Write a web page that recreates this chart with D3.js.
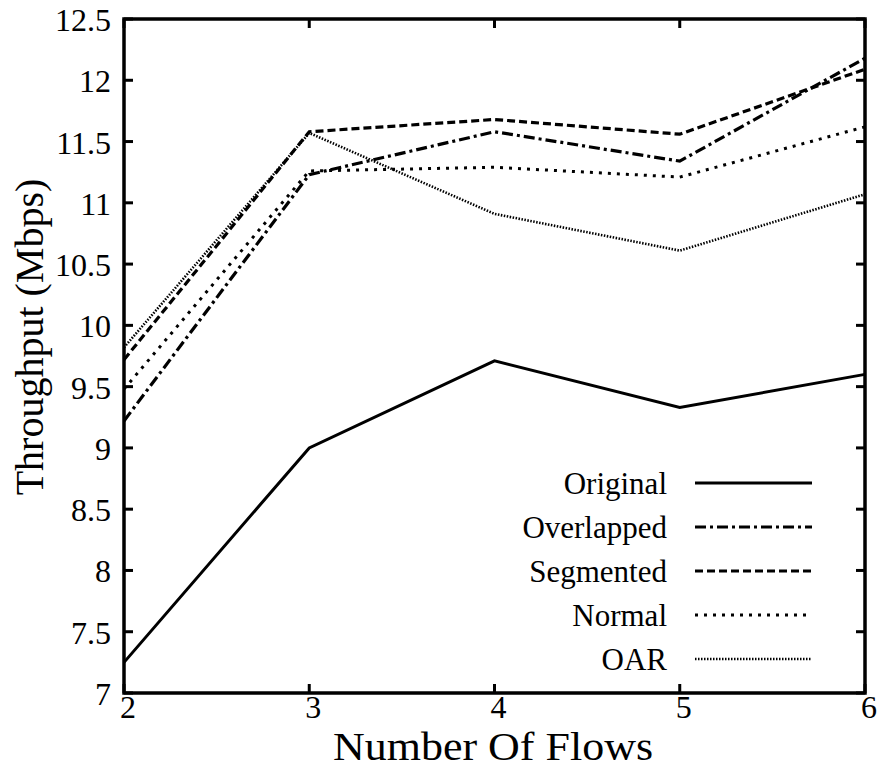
<!DOCTYPE html>
<html>
<head>
<meta charset="utf-8">
<script src="https://cdn.jsdelivr.net/npm/d3@7"></script>
<style>
html,body{margin:0;padding:0;background:#fff;}
svg{display:block;}
</style>
</head>
<body>
<svg id="chart" width="881" height="770"></svg>
<script>
const flows = [2, 3, 4, 5, 6];
const original   = [7.25, 9.00, 9.71, 9.33, 9.60];
const overlapped = [9.22, 11.23, 11.58, 11.34, 12.18];
const segmented  = [9.72, 11.58, 11.68, 11.56, 12.09];
const normal     = [9.48, 11.26, 11.29, 11.21, 11.62];
const oar        = [9.82, 11.57, 10.91, 10.61, 11.07];
const seriesNames = ["Original", "Overlapped", "Segmented", "Normal", "OAR"];
const yTicks = [7, 7.5, 8, 8.5, 9, 9.5, 10, 10.5, 11, 11.5, 12, 12.5];
const xTicks = [2, 3, 4, 5, 6];

const seriesValues = [original, overlapped, segmented, normal, oar];
const styles = [
  {dash: null, width: 3},
  {dash: "11,4,3,4", width: 3.2},
  {dash: "8,4", width: 3.2},
  {dash: "3,6", width: 3},
  {dash: "1.5,1.5", width: 2.6}
];
const FONT = "'Liberation Serif', Tinos, 'Times New Roman', Times, 'DejaVu Serif', serif";

const svg = d3.select("#chart");
const L = 124, R = 865, T = 19, B = 693;
const x = d3.scaleLinear().domain([2, 6]).range([L, R]);
const y = d3.scaleLinear().domain([7, 12.5]).range([B, T]);

const tickLen = 9;
const g = svg.append("g");
yTicks.forEach(v => {
  g.append("line").attr("x1", L).attr("x2", L + tickLen).attr("y1", y(v)).attr("y2", y(v))
    .attr("stroke", "#000").attr("stroke-width", 3);
  g.append("line").attr("x1", R).attr("x2", R - tickLen).attr("y1", y(v)).attr("y2", y(v))
    .attr("stroke", "#000").attr("stroke-width", 3);
  g.append("text").attr("x", 111).attr("y", y(v) + 12).attr("text-anchor", "end")
    .attr("font-family", FONT).attr("font-size", 32).text(v);
});
xTicks.forEach(v => {
  g.append("line").attr("x1", x(v)).attr("x2", x(v)).attr("y1", B).attr("y2", B - tickLen)
    .attr("stroke", "#000").attr("stroke-width", 3);
  g.append("line").attr("x1", x(v)).attr("x2", x(v)).attr("y1", T).attr("y2", T + tickLen)
    .attr("stroke", "#000").attr("stroke-width", 3);
  g.append("text").attr("x", x(v) + 4).attr("y", 718).attr("text-anchor", "middle")
    .attr("font-family", FONT).attr("font-size", 32).text(v);
});

const line = d3.line().x((d, i) => x(flows[i])).y(d => y(d));
seriesValues.forEach((vals, k) => {
  svg.append("path").datum(vals).attr("d", line)
    .attr("fill", "none").attr("stroke", "#000")
    .attr("stroke-width", styles[k].width)
    .attr("stroke-dasharray", styles[k].dash)
    .attr("stroke-linejoin", "miter");
});

svg.append("rect").attr("x", L).attr("y", T).attr("width", R - L).attr("height", B - T)
  .attr("fill", "none").attr("stroke", "#000").attr("stroke-width", 3.5);

const legY0 = 483, legDY = 44;
seriesNames.forEach((name, k) => {
  const ly = legY0 + k * legDY;
  svg.append("text").attr("x", 667).attr("y", ly + 11).attr("text-anchor", "end")
    .attr("font-family", FONT).attr("font-size", 31).text(name);
  svg.append("line").attr("x1", 695).attr("x2", 812).attr("y1", ly).attr("y2", ly)
    .attr("stroke", "#000").attr("stroke-width", styles[k].width)
    .attr("stroke-dasharray", styles[k].dash);
});

svg.append("text").attr("x", 493).attr("y", 760).attr("text-anchor", "middle")
  .attr("font-family", FONT).attr("font-size", 41)
  .attr("textLength", 320).attr("lengthAdjust", "spacingAndGlyphs").text("Number Of Flows");
svg.append("text").attr("transform", "translate(43,337) rotate(-90)")
  .attr("text-anchor", "middle").attr("font-family", FONT).attr("font-size", 40).text("Throughput (Mbps)");
</script>
</body>
</html>
